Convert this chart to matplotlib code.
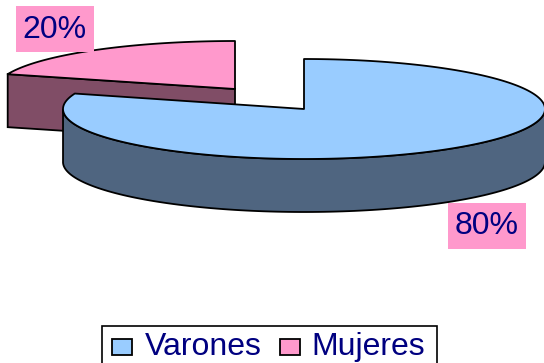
import numpy as np
import matplotlib
matplotlib.use('Agg')
import matplotlib.pyplot as plt
from matplotlib.patches import Polygon, Rectangle

# datos del grafico
categorias = ['Varones', 'Mujeres']
valores = [80, 20]
etiquetas = ['80%', '20%']
colores = ['#99CCFF', '#FF99CC']
colores_lado = ['#4F6580', '#804D66']
azul_texto = '#000080'

plt.rcParams['font.family'] = ['Liberation Sans', 'DejaVu Sans']

RX = 241
RY = 50
ALTO = 53
LETRA = 23


# punto del borde, el angulo se mide desde las 12 en sentido horario
def borde(cx, cy, rx, ry, grados):
    t = np.radians(grados)
    return np.column_stack([cx + rx * np.sin(t), cy - ry * np.cos(t)])


def dibujar_porcion(ax, cx, cy, rx, ry, ini, fin, color, color_lado):
    angulos = np.linspace(ini, fin, 200)
    arco = borde(cx, cy, rx, ry, angulos)
    centro = np.array([[cx, cy]])

    # parte visible de la pared exterior (solo la mitad de abajo)
    a_lado = angulos[(angulos >= 90) & (angulos <= 270)]
    if len(a_lado) > 0:
        sup = borde(cx, cy, rx, ry, a_lado)
        inf = sup + [0, ALTO]
        ax.add_patch(Polygon(np.vstack([sup, inf[::-1]]), closed=True,
                             fc=color_lado, ec='black', lw=1.3, joinstyle='round'))

    # cara de corte visible, solo la del lado izquierdo que mira al frente
    p = borde(cx, cy, rx, ry, ini)[0]
    if p[0] < cx:
        cara = np.array([p, [cx, cy], [cx, cy + ALTO], p + [0, ALTO]])
        ax.add_patch(Polygon(cara, closed=True, fc=color_lado, ec='black', lw=1.3))

    ax.add_patch(Polygon(np.vstack([centro, arco]), closed=True,
                         fc=color, ec='black', lw=1.3, joinstyle='round'))


fig = plt.figure(figsize=(5.44, 3.63), dpi=100)
ax = fig.add_axes([0, 0, 1, 1])
ax.set_xlim(0, 544)
ax.set_ylim(363, 0)
ax.axis('off')

angulo_azul = 360 * valores[0] / sum(valores)

# primero la porcion de atras (Mujeres)
dibujar_porcion(ax, 235, 89, 239, 48, angulo_azul, 360, colores[1], colores_lado[1])
dibujar_porcion(ax, 304, 109, RX, RY, 0, angulo_azul, colores[0], colores_lado[0])

# etiquetas de porcentaje
for texto, (x, y), (x0, y0) in zip(etiquetas, [(486.5, 234), (54.5, 38)], [(448, 203), (16, 6)]):
    ax.add_patch(Rectangle((x0, y0), 78, 46, fc=colores[1], ec='none', zorder=5))
    ax.text(x, y, texto, color=azul_texto, fontsize=LETRA, ha='center',
            va='baseline', zorder=6)

# leyenda, el marco se sale por abajo igual que en el original
ax.add_patch(Rectangle((102, 326), 335, 50, fc='white', ec='black', lw=1.2, zorder=5))
for nombre, color, x_caja, x_texto in zip(categorias, colores, [112, 280], [203, 368]):
    ax.add_patch(Rectangle((x_caja, 339), 20, 16, fc=color, ec='black', lw=1.3, zorder=6))
    ax.text(x_texto, 355, nombre, color=azul_texto, fontsize=LETRA, ha='center',
            va='baseline', zorder=6)

fig.savefig('out.png', dpi=100)
